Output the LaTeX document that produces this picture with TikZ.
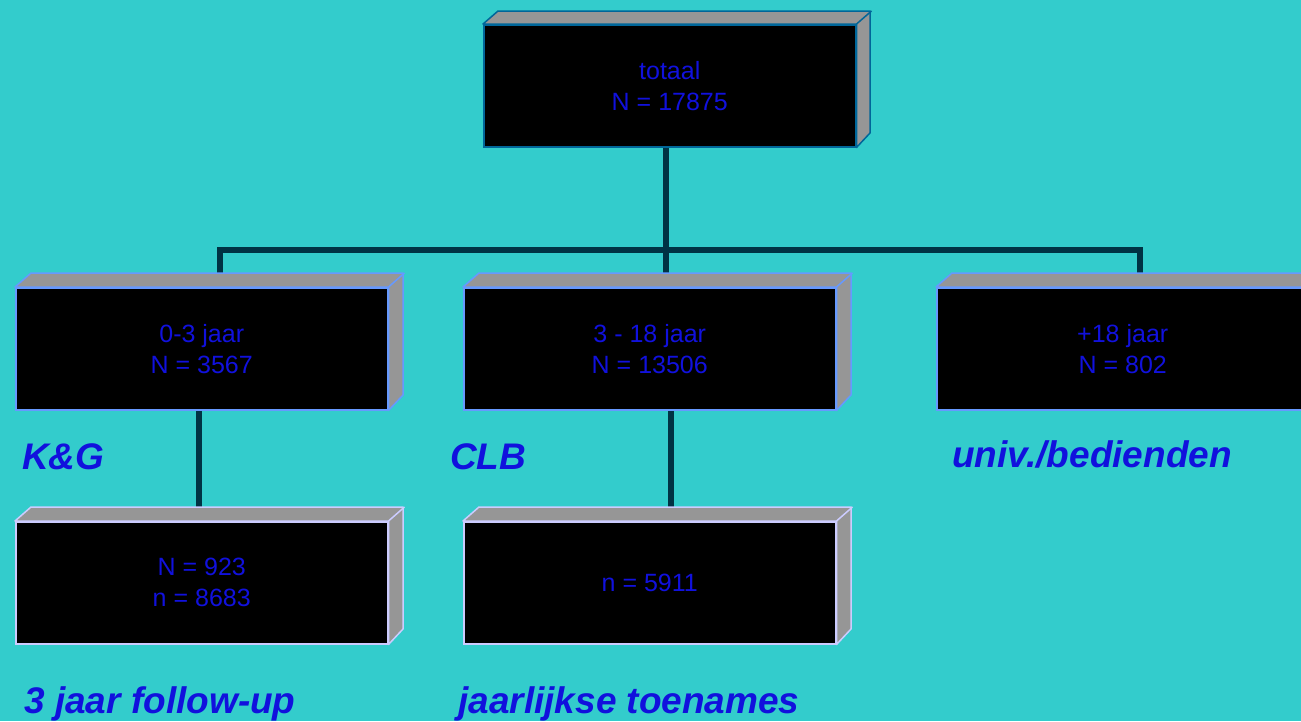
\documentclass[tikz,border=0pt]{standalone}
\usepackage{fontspec}
\setmainfont{Liberation Sans}
\usetikzlibrary{backgrounds}
\definecolor{bg}{RGB}{51,204,204}
\definecolor{conn}{RGB}{0,51,68}
\definecolor{side}{RGB}{150,150,150}
\definecolor{txt}{RGB}{17,17,221}
\definecolor{bdA}{RGB}{0,102,153}
\definecolor{bdB}{RGB}{102,153,255}
\definecolor{bdC}{RGB}{204,204,255}
\tikzset{
  box/.style={draw, fill=black, line width=1.5pt, minimum width=372pt, minimum height=122pt,
    inner sep=0pt, text=txt, align=center, font=\fontsize{25}{31}\selectfont, anchor=north west,
    text depth=-5pt},
  connector/.style={draw=conn, line width=6pt},
  lab/.style={text=txt, font=\fontsize{37}{44}\selectfont\bfseries\itshape, anchor=base west, inner sep=0pt},
  face/.style={fill=side, line width=1.5pt, line join=round}
}
\newcommand\boxdepth[4]{%
  \filldraw[face, draw=#4] (#1.north west) -- ++(#2,-#3) -- ++(372,0) -- ++(0,122) -- (#1.south east) -- (#1.north east) -- cycle;
  \draw[draw=#4, line width=1.5pt] (#1.north east) -- ++(#2,-#3);}
\begin{document}
\begin{tikzpicture}[x=1pt,y=-1pt]
\useasboundingbox (0,0) rectangle (1301,721);
\clip (0,0) rectangle (1301,721);
% boxes
\node[box, draw=bdA] (top) at (483,24) {totaal\\N = 17875};
\node[box, draw=bdB] (b1) at (15,287) {0-3 jaar\\N = 3567};
\node[box, draw=bdB] (b2) at (463,287) {3 - 18 jaar\\N = 13506};
\node[box, draw=bdB] (b3) at (936,287) {+18 jaar\\N = 802};
\node[box, draw=bdC] (c1) at (15,521) {N = 923\\n = 8683};
\node[box, draw=bdC] (c2) at (463,521) {n = 5911};
\boxdepth{top}{15}{13}{bdA}
\boxdepth{b1}{16}{14}{bdB}
\boxdepth{b2}{16}{14}{bdB}
\boxdepth{b3}{16}{14}{bdB}
\boxdepth{c1}{16}{14}{bdC}
\boxdepth{c2}{16}{14}{bdC}
% connectors
\begin{scope}[on background layer]
\fill[bg] (0,0) rectangle (1301,721);
\coordinate (hl) at (220,250);
\coordinate (hm) at (666,250);
\coordinate (hr) at (1140,250);
\coordinate (v1) at (199,0);
\coordinate (v2) at (671,0);
\draw[connector] (hm |- top.south) -- (hm);
\draw[connector, line join=miter] (hl |- b1.north) -- (hl) -- (hr) -- (hr |- b3.north);
\draw[connector] (hm) -- (hm |- b2.north);
\draw[connector] (v1 |- b1.south) -- (v1 |- c1.north);
\draw[connector] (v2 |- b2.south) -- (v2 |- c2.north);
\end{scope}
% labels
\node[lab] (lkg) at (22,469) {K\&G};
\node[lab] (lclb) at (450,469) {CLB};
\node[lab] (luniv) at (952,467) {univ./bedienden};
\node[lab] (lfu) at (24,713) {3 jaar follow-up};
\node[lab] (ljt) at (458,713) {jaarlijkse toenames};
\end{tikzpicture}
\end{document}
